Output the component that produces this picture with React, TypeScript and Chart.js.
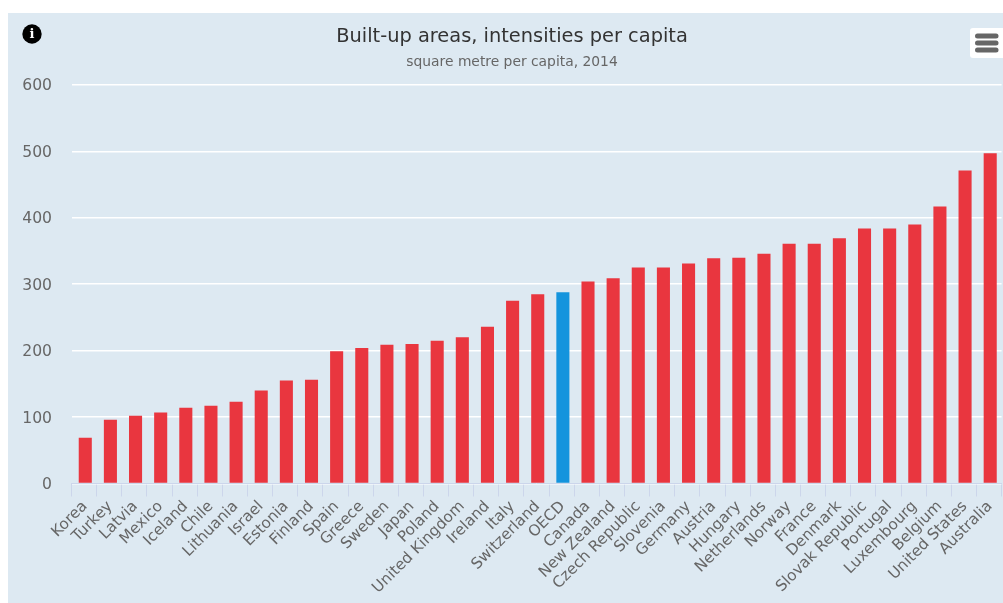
import React, { useEffect, useRef } from "react";
import { Chart, registerables } from "chart.js";

Chart.register(...registerables);

const categories = ["Korea","Turkey","Latvia","Mexico","Iceland","Chile","Lithuania","Israel","Estonia","Finland","Spain","Greece","Sweden","Japan","Poland","United Kingdom","Ireland","Italy","Switzerland","OECD","Canada","New Zealand","Czech Republic","Slovenia","Germany","Austria","Hungary","Netherlands","Norway","France","Denmark","Slovak Republic","Portugal","Luxembourg","Belgium","United States","Australia"];
const values = [69,96,102,107,114,117,123,140,155,156,199,204,209,210,215,220,236,275,285,288,304,309,325,325,331,339,340,346,361,361,369,384,384,390,417,471,497];
const yTicks = [0,100,200,300,400,500,600];
const titleText = "Built-up areas, intensities per capita";
const subtitleText = "square metre per capita, 2014";
const highlighted = "OECD";
const FONT = "'DejaVu Sans', sans-serif";
const BG = "#dde9f2";

const decor = {
  id: "decor",
  beforeDraw(c: any) {
    const g = c.ctx;
    g.save();
    g.fillStyle = BG;
    g.fillRect(0, 0, c.width, c.height);
    g.restore();
  },
  beforeDatasetsDraw(c: any) {
    c.ctx.save();
    c.ctx.translate(1.2, 0);
  },
  afterDatasetsDraw(c: any) {
    c.ctx.restore();
  },
  afterDraw(c: any) {
    const g = c.ctx;
    g.save();
    g.fillStyle = "#000";
    g.beginPath();
    g.arc(24, 21, 9.7, 0, Math.PI * 2);
    g.fill();
    g.fillStyle = "#fff";
    g.font = "bold 13px 'DejaVu Serif', serif";
    g.textAlign = "center";
    g.textBaseline = "middle";
    g.fillText("i", 24, 21.5);
    g.fillStyle = "#fff";
    g.beginPath();
    g.roundRect(962, 15, 40, 30, 3);
    g.fill();
    g.fillStyle = "#666";
    for (const y of [20.6, 27.6, 34.6]) {
      g.beginPath();
      g.roundRect(967, y, 23.5, 5, 2.5);
      g.fill();
    }
    g.restore();
  },
};

export default function App() {
  const ref = useRef<HTMLCanvasElement>(null);
  useEffect(() => {
    document.documentElement.style.overflow = "hidden";
    const chart = new Chart(ref.current!, {
      type: "bar",
      data: {
        labels: categories,
        datasets: [{
          data: values,
          backgroundColor: categories.map((c) => (c === highlighted ? "#1494dd" : "#e9363f")),
          barPercentage: 0.52,
          categoryPercentage: 1,
        }],
      },
      plugins: [decor],
      options: {
        animation: false,
        responsive: false,
        devicePixelRatio: 1,
        layout: { padding: { left: 14, right: 1, top: 0, bottom: 0 } },
        plugins: {
          legend: { display: false },
          tooltip: { enabled: false },
          title: {
            display: true,
            text: titleText,
            color: "#333",
            font: { family: FONT, size: 19.4, weight: "normal" },
            padding: { top: 12.5, bottom: 5 },
          },
          subtitle: {
            display: true,
            text: subtitleText,
            color: "#666",
            font: { family: FONT, size: 13.85, weight: "normal" },
            padding: { top: 0, bottom: 14.5 },
          },
        },
        scales: {
          x: {
            afterFit(s: any) { s.height = 119.5; },
            grid: { display: true, drawOnChartArea: false, drawTicks: true, tickLength: 13, color: "#ccd6eb", offset: true },
            border: { display: true, color: "#ccd6eb" },
            ticks: {
              autoSkip: false, minRotation: 45, maxRotation: 45, padding: 1, labelOffset: 1,
              color: "#666", font: { family: FONT, size: 15.3 },
            },
          },
          y: {
            min: 0, max: 600,
            afterFit(s: any) { s.width = 49.5; },
            afterBuildTicks(s: any) { s.ticks = yTicks.map((v) => ({ value: v })); },
            grid: { color: "#ffffff", lineWidth: 1.5, drawTicks: false },
            border: { display: false },
            ticks: { padding: 19.5, labelOffset: 1.5, color: "#666", font: { family: FONT, size: 15.6 } },
          },
        },
      },
    } as any);
    return () => chart.destroy();
  }, []);
  return (
    <canvas
      ref={ref}
      width={995}
      height={590}
      style={{ position: "absolute", left: 8, top: 13, width: 995, height: 590, display: "block" }}
    />
  );
}
